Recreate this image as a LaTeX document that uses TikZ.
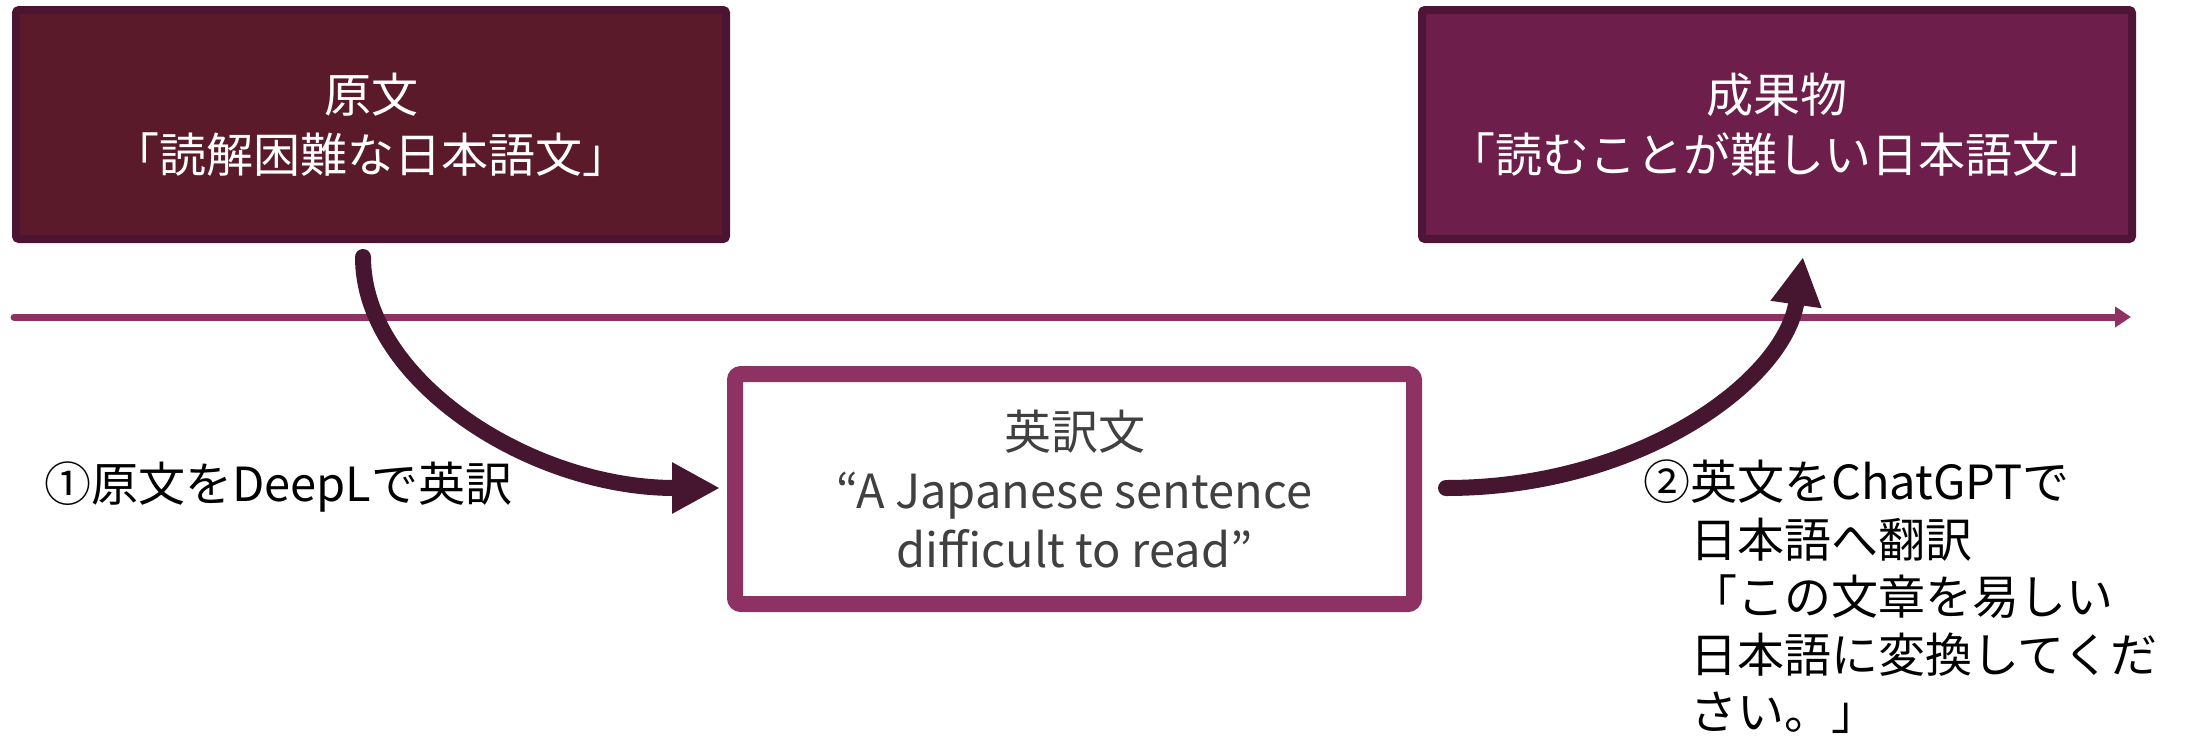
\documentclass[tikz,border=0pt]{standalone}
\usepackage{fontspec}
\setmainfont{Noto Sans CJK JP}
\usetikzlibrary{arrows.meta,calc}
\definecolor{boxA}{HTML}{5B1A29}
\definecolor{boxAline}{HTML}{4B1531}
\definecolor{boxB}{HTML}{6D1E4A}
\definecolor{boxBline}{HTML}{4E1536}
\definecolor{plum}{HTML}{8E3163}
\definecolor{arrowc}{HTML}{46152F}
\definecolor{txtgray}{HTML}{404040}
\begin{document}
\begin{tikzpicture}[x=1pt,y=-1pt,
  topbox/.style={draw, line width=8pt, rounded corners=3pt, minimum width=710pt, minimum height=229pt, inner sep=0pt, text=white, align=center, font=\fontsize{47}{60}\selectfont},
  midbox/.style={draw=plum, fill=white, line width=16pt, rounded corners=6pt, minimum width=679pt, minimum height=230pt, inner sep=0pt, text=txtgray, align=center, font=\fontsize{47}{59}\selectfont},
  flow/.style={draw=arrowc, line width=16pt, line cap=round, -{Triangle[length=48pt,width=48pt]}},
  timeline/.style={draw=plum, line width=7pt, line cap=round, -{Triangle[length=16pt,width=20pt]}},
  lbl/.style={inner sep=0pt, text=black, font=\fontsize{47}{57.5}\selectfont, align=left}
]
\useasboundingbox (0,0) rectangle (2192,739);
\fill[white] (0,0) rectangle (2192,739);

\coordinate (tl0) at (14,317);
\coordinate (tl1) at (2131,317);
\draw[timeline] (tl0) -- (tl1);

\node[topbox, fill=boxA, draw=boxAline] (b1) at (371,124.5) {原文\\「読解困難な日本語文」};
\node[topbox, fill=boxB, draw=boxBline] (b2) at (1777,124.5) {成果物\\「読むことが難しい日本語文」};
\node[midbox] (b3) at (1074.5,489) {英訳文\\“A Japanese sentence\\difficult to read”};

\coordinate (s1) at ($(b1.south)+(-8,14)$);
\coordinate (e1) at ($(b3.west)+(-7,-1)$);
\draw[flow] (s1) .. controls (363,380) and (530,488) .. (e1);

\coordinate (s2) at ($(b3.east)+(24,-1)$);
\coordinate (e2) at ($(b2.south)+(26,14)$);
\draw[flow] (s2) .. controls (1640,488) and (1785,380) .. (e2);

\node[lbl, anchor=west] (l1) at (44,487) {①原文をDeepLで英訳};
\node[lbl, anchor=north west] (l2) at (1690,460) {\llap{②}英文をChatGPTで\\日本語へ翻訳\\「この文章を易しい\\日本語に変換してくだ\\さい。」};
\end{tikzpicture}
\end{document}
